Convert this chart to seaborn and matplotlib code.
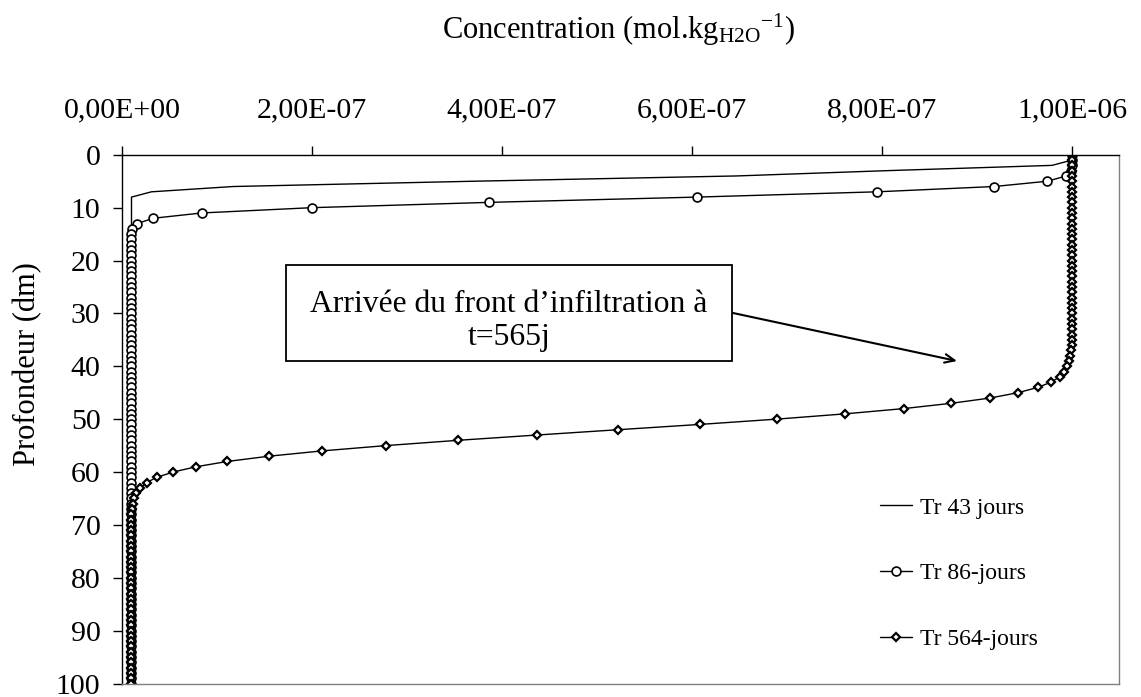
import matplotlib
matplotlib.use("Agg")
import matplotlib.pyplot as plt
from matplotlib.patches import Rectangle
from matplotlib.ticker import FuncFormatter
import seaborn as sns
import pandas as pd

# ---------------- data ----------------
depth = list(range(0, 101))

conc_43 = [1.0e-6, 1.0e-6, 9.79e-7, 8.05e-7, 6.47e-7, 3.7e-7, 1.17e-7, 3.1e-8, 1.0e-8, 1.0e-8,
           1.0e-8, 1.0e-8, 1.0e-8, 1.0e-8, 1.0e-8, 1.0e-8, 1.0e-8, 1.0e-8, 1.0e-8, 1.0e-8,
           1.0e-8, 1.0e-8, 1.0e-8, 1.0e-8, 1.0e-8, 1.0e-8, 1.0e-8, 1.0e-8, 1.0e-8, 1.0e-8,
           1.0e-8, 1.0e-8, 1.0e-8, 1.0e-8, 1.0e-8, 1.0e-8, 1.0e-8, 1.0e-8, 1.0e-8, 1.0e-8,
           1.0e-8, 1.0e-8, 1.0e-8, 1.0e-8, 1.0e-8, 1.0e-8, 1.0e-8, 1.0e-8, 1.0e-8, 1.0e-8,
           1.0e-8, 1.0e-8, 1.0e-8, 1.0e-8, 1.0e-8, 1.0e-8, 1.0e-8, 1.0e-8, 1.0e-8, 1.0e-8,
           1.0e-8, 1.0e-8, 1.0e-8, 1.0e-8, 1.0e-8, 1.0e-8, 1.0e-8, 1.0e-8, 1.0e-8, 1.0e-8,
           1.0e-8, 1.0e-8, 1.0e-8, 1.0e-8, 1.0e-8, 1.0e-8, 1.0e-8, 1.0e-8, 1.0e-8, 1.0e-8,
           1.0e-8, 1.0e-8, 1.0e-8, 1.0e-8, 1.0e-8, 1.0e-8, 1.0e-8, 1.0e-8, 1.0e-8, 1.0e-8,
           1.0e-8, 1.0e-8, 1.0e-8, 1.0e-8, 1.0e-8, 1.0e-8, 1.0e-8, 1.0e-8, 1.0e-8, 1.0e-8,
           1.0e-8]

conc_86 = [1.0e-6, 1.0e-6, 1.0e-6, 9.99e-7, 9.94e-7, 9.74e-7, 9.18e-7, 7.95e-7, 6.05e-7, 3.86e-7,
           2.0e-7, 8.4e-8, 3.3e-8, 1.6e-8, 1.1e-8, 1.0e-8, 1.0e-8, 1.0e-8, 1.0e-8, 1.0e-8,
           1.0e-8, 1.0e-8, 1.0e-8, 1.0e-8, 1.0e-8, 1.0e-8, 1.0e-8, 1.0e-8, 1.0e-8, 1.0e-8,
           1.0e-8, 1.0e-8, 1.0e-8, 1.0e-8, 1.0e-8, 1.0e-8, 1.0e-8, 1.0e-8, 1.0e-8, 1.0e-8,
           1.0e-8, 1.0e-8, 1.0e-8, 1.0e-8, 1.0e-8, 1.0e-8, 1.0e-8, 1.0e-8, 1.0e-8, 1.0e-8,
           1.0e-8, 1.0e-8, 1.0e-8, 1.0e-8, 1.0e-8, 1.0e-8, 1.0e-8, 1.0e-8, 1.0e-8, 1.0e-8,
           1.0e-8, 1.0e-8, 1.0e-8, 1.0e-8, 1.0e-8, 1.0e-8, 1.0e-8, 1.0e-8, 1.0e-8, 1.0e-8,
           1.0e-8, 1.0e-8, 1.0e-8, 1.0e-8, 1.0e-8, 1.0e-8, 1.0e-8, 1.0e-8, 1.0e-8, 1.0e-8,
           1.0e-8, 1.0e-8, 1.0e-8, 1.0e-8, 1.0e-8, 1.0e-8, 1.0e-8, 1.0e-8, 1.0e-8, 1.0e-8,
           1.0e-8, 1.0e-8, 1.0e-8, 1.0e-8, 1.0e-8, 1.0e-8, 1.0e-8, 1.0e-8, 1.0e-8, 1.0e-8,
           1.0e-8]

conc_564 = [1.0e-6, 1.0e-6, 1.0e-6, 1.0e-6, 1.0e-6, 1.0e-6, 1.0e-6, 1.0e-6, 1.0e-6, 1.0e-6,
            1.0e-6, 1.0e-6, 1.0e-6, 1.0e-6, 1.0e-6, 1.0e-6, 1.0e-6, 1.0e-6, 1.0e-6, 1.0e-6,
            1.0e-6, 1.0e-6, 1.0e-6, 1.0e-6, 1.0e-6, 1.0e-6, 1.0e-6, 1.0e-6, 1.0e-6, 1.0e-6,
            1.0e-6, 1.0e-6, 1.0e-6, 1.0e-6, 1.0e-6, 1.0e-6, 1.0e-6, 9.99e-7, 9.98e-7, 9.97e-7,
            9.95e-7, 9.92e-7, 9.87e-7, 9.78e-7, 9.64e-7, 9.43e-7, 9.14e-7, 8.73e-7, 8.23e-7, 7.61e-7,
            6.89e-7, 6.08e-7, 5.22e-7, 4.37e-7, 3.54e-7, 2.78e-7, 2.11e-7, 1.55e-7, 1.11e-7, 7.8e-8,
            5.4e-8, 3.65e-8, 2.6e-8, 1.9e-8, 1.5e-8, 1.25e-8, 1.12e-8, 1.06e-8, 1.0e-8, 1.0e-8,
            1.0e-8, 1.0e-8, 1.0e-8, 1.0e-8, 1.0e-8, 1.0e-8, 1.0e-8, 1.0e-8, 1.0e-8, 1.0e-8,
            1.0e-8, 1.0e-8, 1.0e-8, 1.0e-8, 1.0e-8, 1.0e-8, 1.0e-8, 1.0e-8, 1.0e-8, 1.0e-8,
            1.0e-8, 1.0e-8, 1.0e-8, 1.0e-8, 1.0e-8, 1.0e-8, 1.0e-8, 1.0e-8, 1.0e-8, 1.0e-8,
            1.0e-8]

series_labels = ["Tr 43 jours", "Tr 86-jours", "Tr 564-jours"]
x_ticks = [0.0, 2e-7, 4e-7, 6e-7, 8e-7, 1e-6]
y_ticks = [0, 10, 20, 30, 40, 50, 60, 70, 80, 90, 100]
annotation_text = "Arrivée du front d\u2019infiltration à\nt=565j"

# ---------------- style ----------------
sns.set_theme(style="white")
plt.rcParams["font.family"] = ["Liberation Serif", "DejaVu Serif"]
plt.rcParams["mathtext.fontset"] = "custom"
plt.rcParams["mathtext.rm"] = "Liberation Serif"
plt.rcParams["mathtext.it"] = "Liberation Serif:italic"

W, H = 1141, 697
fig = plt.figure(figsize=(W / 100, H / 100), dpi=100)
fig.patch.set_facecolor("white")

ax_l, ax_r, ax_t, ax_b = 122, 1119, 154.8, 683.5
ax = fig.add_axes([ax_l / W, 1 - ax_b / H, (ax_r - ax_l) / W, (ax_b - ax_t) / H])
ax.set_facecolor("white")

df43 = pd.DataFrame({"conc": conc_43, "depth": depth})
df86 = pd.DataFrame({"conc": conc_86, "depth": depth})
df564 = pd.DataFrame({"conc": conc_564, "depth": depth})

sns.lineplot(data=df43, x="conc", y="depth", ax=ax, sort=False, estimator=None,
             orient="y", color="black", lw=1.0, label=series_labels[0], zorder=3)
sns.lineplot(data=df86, x="conc", y="depth", ax=ax, sort=False, estimator=None,
             orient="y", color="black", lw=1.0, marker="o", markersize=6.4,
             markerfacecolor="white", markeredgecolor="black", markeredgewidth=1.2,
             label=series_labels[1], zorder=4)
sns.lineplot(data=df564, x="conc", y="depth", ax=ax, sort=False, estimator=None,
             orient="y", color="black", lw=1.0, marker="D", markersize=3.8,
             markerfacecolor="white", markeredgecolor="black", markeredgewidth=1.6,
             label=series_labels[2], zorder=5)

ax.set_xlim(0, 1.0495e-6)
ax.set_ylim(100, 0)
ax.set_xticks(x_ticks)
ax.set_yticks(y_ticks)
ax.xaxis.set_major_formatter(FuncFormatter(lambda v, p: f"{v:.2E}".replace(".", ",")))
ax.xaxis.tick_top()
ax.set_xlabel("")
ax.set_ylabel("")
ax.tick_params(axis="x", which="major", direction="out", length=6.5, width=1,
               color="black", labelsize=21.5, pad=16, top=True, bottom=False)
ax.tick_params(axis="y", which="major", direction="out", length=6.5, width=1,
               color="black", labelsize=21.5, pad=9, left=True)
for lbl in ax.get_xticklabels() + ax.get_yticklabels():
    lbl.set_color("black")

ax.spines["top"].set_color("black")
ax.spines["left"].set_color("black")
ax.spines["top"].set_linewidth(1.0)
ax.spines["left"].set_linewidth(1.0)
ax.spines["right"].set_color("#808080")
ax.spines["bottom"].set_color("#808080")
ax.spines["right"].set_linewidth(1.0)
ax.spines["bottom"].set_linewidth(1.0)
for s in ax.spines.values():
    s.set_visible(True)
    s.set_zorder(6)

# titles
fig.text(619 / W, 1 - 30 / H, r"Concentration (mol.kg$_{\mathrm{H2O}}$$^{\mathrm{-1}}$)",
         ha="center", va="center", fontsize=22, color="black")
fig.text(27.5 / W, 1 - 364 / H, "Profondeur (dm)", rotation=90, ha="center",
         va="center", fontsize=22, color="black")

# annotation box + arrow
axw, axh = ax_r - ax_l, ax_b - ax_t
def fx(px):
    return (px - ax_l) / axw
def fy(py):
    return 1 - (py - ax_t) / axh

ax.add_patch(Rectangle((fx(286), fy(361)), fx(732) - fx(286), fy(265) - fy(361),
                       transform=ax.transAxes, fill=True, facecolor="white",
                       edgecolor="black", lw=1.3, zorder=7, clip_on=False))
ax.text(fx(509), fy(321), annotation_text, transform=ax.transAxes, ha="center",
        va="center", fontsize=22.8, linespacing=1.22, color="black", zorder=8)
ax.annotate("", xy=(fx(957), fy(361)), xytext=(fx(733), fy(313)),
            xycoords="axes fraction", textcoords="axes fraction",
            arrowprops=dict(arrowstyle="->,head_length=0.5,head_width=0.22", color="black",
                            lw=1.5, mutation_scale=14, shrinkA=0, shrinkB=0), zorder=8)

# legend
leg = ax.legend(loc="upper left", bbox_to_anchor=(fx(880), fy(497)),
                bbox_transform=ax.transAxes, frameon=False, fontsize=17,
                borderpad=0, borderaxespad=0, handlelength=1.36,
                handletextpad=0.35, labelspacing=1.88)
for t in leg.get_texts():
    t.set_color("black")

fig.savefig("out.png", dpi=100, facecolor="white")
